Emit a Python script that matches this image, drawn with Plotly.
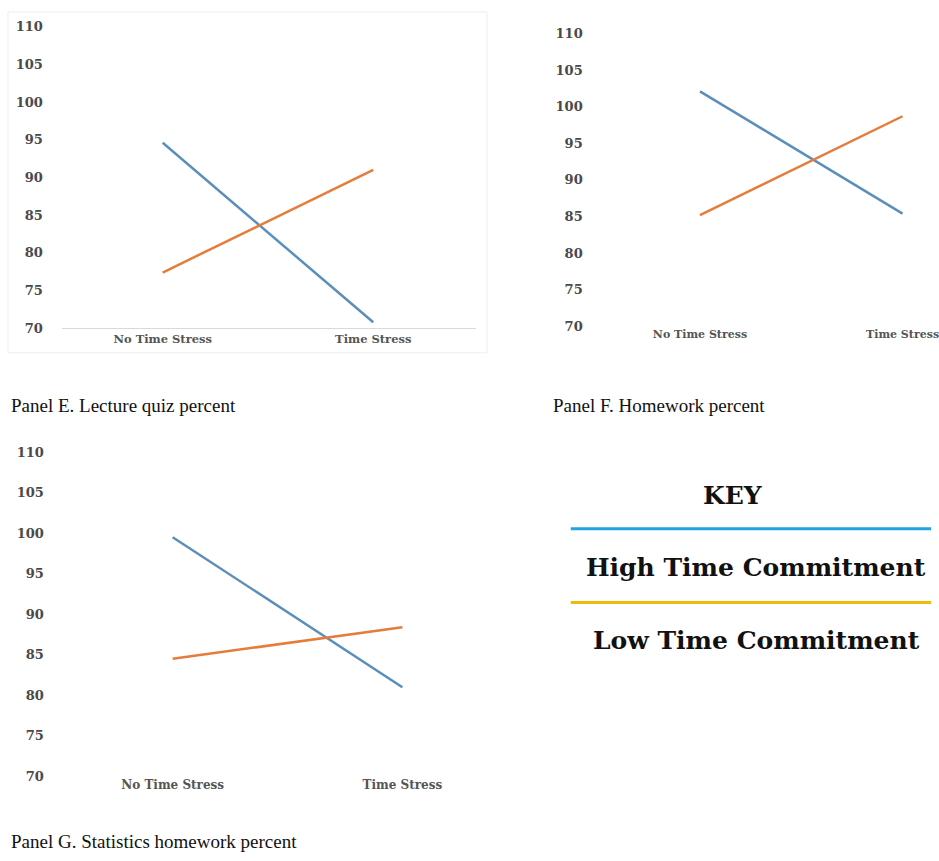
import plotly.graph_objects as go

W, H = 939, 861

categories = ["No Time Stress", "Time Stress"]
y_ticks = [70, 75, 80, 85, 90, 95, 100, 105, 110]

E_high = [94.6, 70.8]
E_low = [77.4, 91.0]
F_high = [102.1, 85.4]
F_low = [85.2, 98.7]
G_high = [99.5, 81.0]
G_low = [84.5, 88.4]

captions = ["Panel E. Lecture quiz percent", "Panel F. Homework percent",
            "Panel G. Statistics homework percent"]
key_title = "KEY"
key_labels = ["High Time Commitment", "Low Time Commitment"]

BLUE = "#5b8fba"
ORANGE = "#e57c3a"
KEY_BLUE = "#1ea5df"
KEY_GOLD = "#f1b90a"


def xd(px):
    return px / W


def yd(py):
    return 1 - py / H


fig = go.Figure()

panels = [
    ("x", "y", E_high, E_low),
    ("x2", "y2", F_high, F_low),
    ("x3", "y3", G_high, G_low),
]
for xa, ya, hi, lo in panels:
    fig.add_trace(go.Scatter(x=categories, y=hi, mode="lines", xaxis=xa, yaxis=ya,
                             line=dict(color=BLUE, width=2.5), showlegend=False))
    fig.add_trace(go.Scatter(x=categories, y=lo, mode="lines", xaxis=xa, yaxis=ya,
                             line=dict(color=ORANGE, width=2.5), showlegend=False))

tickfont = dict(family="DejaVu Serif", size=13, color="#4a4a4a", weight="bold")


def xaxis(domain, rng, size, showline):
    return dict(domain=domain, type="category", range=rng, showgrid=False, zeroline=False,
                showline=showline, linecolor="#d9d9d9", linewidth=1, ticks="",
                tickfont=dict(family="DejaVu Serif", size=size, color="#555555", weight="bold"),
                fixedrange=True)


def yaxis(domain, anchor):
    return dict(domain=domain, anchor=anchor, range=[70, 110], tickvals=y_ticks,
                showgrid=False, zeroline=False, showline=False, ticks="",
                tickfont=tickfont, ticklabelstandoff=18, fixedrange=True)


fig.update_layout(
    width=W, height=H,
    margin=dict(l=0, r=0, t=0, b=0),
    paper_bgcolor="white", plot_bgcolor="white",
    xaxis=dict(xaxis([xd(62), xd(477)], [-0.479, 1.488], 11.5, True), anchor="y"),
    yaxis=yaxis([yd(327), yd(20)], "x"),
    xaxis2=dict(xaxis([xd(603), 1.0], [-0.485, 1.17], 11, False), anchor="y2"),
    yaxis2=yaxis([yd(325), yd(27)], "x2"),
    xaxis3=dict(xaxis([xd(63), xd(470)], [-0.478, 1.29], 12, False), anchor="y3"),
    yaxis3=yaxis([yd(783), yd(453)], "x3"),
)

# faint frame around panel E
fig.add_shape(type="rect", xref="paper", yref="paper", x0=xd(8), x1=xd(488), y0=yd(352), y1=yd(5),
              line=dict(color="#eeeeee", width=1), fillcolor="rgba(0,0,0,0)", layer="below")

# captions
cap_font = dict(family="Liberation Serif", size=19, color="#111111")
for text, px, py in zip(captions, [9, 552, 9], [406, 406, 849]):
    fig.add_annotation(text=text, x=xd(px), y=yd(py), xref="paper", yref="paper",
                       xanchor="left", yanchor="middle", showarrow=False, font=cap_font)

# key
key_font = dict(family="DejaVu Serif", size=25, color="#111111", weight="bold")
fig.add_annotation(text=key_title, x=xd(735), y=yd(497), xref="paper", yref="paper",
                   xanchor="center", yanchor="middle", showarrow=False, font=key_font)
for label, color, ly, ty in zip(key_labels, [KEY_BLUE, KEY_GOLD], [531, 606], [570, 645]):
    fig.add_shape(type="line", xref="paper", yref="paper", x0=xd(572), x1=xd(933),
                  y0=yd(ly), y1=yd(ly), line=dict(color=color, width=3))
    fig.add_annotation(text=label, x=xd(758), y=yd(ty), xref="paper", yref="paper",
                       xanchor="center", yanchor="middle", showarrow=False, font=key_font)

fig.write_html("out.html", config={"displayModeBar": False},
               post_script="document.body.style.margin='0';document.body.style.overflow='hidden';")
